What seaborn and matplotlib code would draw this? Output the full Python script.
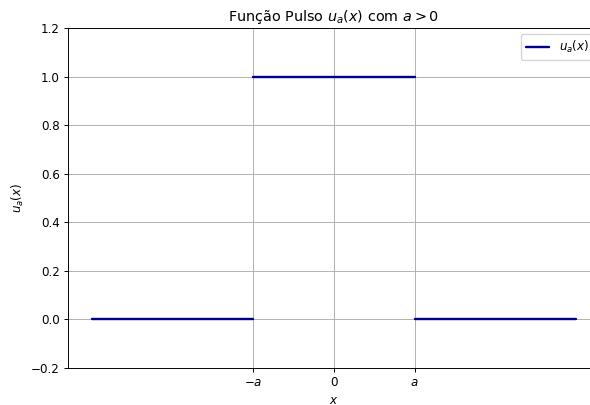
import matplotlib
matplotlib.use("Agg")
import matplotlib.pyplot as plt
import seaborn as sns
import pandas as pd

a = 1.0
seg_x_start = [-3.0, -1.0, 1.0]
seg_x_end = [-1.0, 1.0, 3.0]
seg_y = [0.0, 1.0, 0.0]
tick_vals = [-1.0, 0.0, 1.0]
tick_labels = [r"$-a$", r"$0$", r"$a$"]

rows = []
for i, (x0, x1, y) in enumerate(zip(seg_x_start, seg_x_end, seg_y)):
    rows.append({"seg": i, "x": x0 * a, "y": y})
    rows.append({"seg": i, "x": x1 * a, "y": y})
df = pd.DataFrame(rows)

k = 0.86
sns.set_style("white")
plt.rcParams['font.family'] = ['DejaVu Sans']
plt.rcParams['text.color'] = 'black'
plt.rcParams['axes.labelcolor'] = 'black'
plt.rcParams['xtick.color'] = 'black'
plt.rcParams['ytick.color'] = 'black'
fig = plt.figure(figsize=(5.9, 4.05), dpi=100)
ax = fig.add_axes([68/590, 37/405, (600-68)/590, (368-28)/405])

for i in range(len(seg_y)):
    sub = df[df["seg"] == i]
    sns.lineplot(data=sub, x="x", y="y", ax=ax, color="darkblue", linewidth=2*k,
                 label=r"$u_a(x)$" if i == 0 else None, legend=(i == 0))

ax.set_xlim(-3.3, 3.3)
ax.set_ylim(-0.2, 1.2)
ax.set_xticks(tick_vals)
ax.set_xticklabels(tick_labels)
ax.set_yticks([-0.2, 0.0, 0.2, 0.4, 0.6, 0.8, 1.0, 1.2])
ax.grid(True, color="#b0b0b0", linewidth=0.8*k)
for s in ax.spines.values():
    s.set_visible(True)
    s.set_color("black")
    s.set_linewidth(0.8*k)
ax.tick_params(axis="both", which="both", length=3.5*k, width=0.8*k, color="black",
               labelcolor="black", labelsize=10*k, left=True, bottom=True, pad=3.5*k)
ax.set_xlabel(r"$x$", fontsize=10*k, labelpad=4*k)
ax.set_ylabel(r"$u_a(x)$", fontsize=10*k, labelpad=4*k)
ax.set_title(r"Função Pulso $u_a(x)$ com $a > 0$", fontsize=12*k, pad=6*k)
ax.legend(loc="upper right", fontsize=10*k)

fig.savefig("out.png", dpi=100)
